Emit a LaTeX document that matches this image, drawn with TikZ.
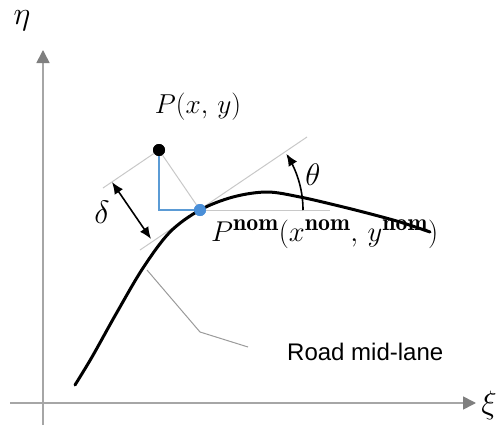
\documentclass[tikz,border=0pt]{standalone}
\usepackage{graphicx}
\usepackage{fontspec}
\setsansfont{Liberation Sans}
\usetikzlibrary{arrows.meta}
\definecolor{axisgray}{HTML}{A6A6A6}
\definecolor{headgray}{HTML}{7F7F7F}
\definecolor{thingray}{HTML}{C8C8C8}
\definecolor{leadgray}{HTML}{9A9A9A}
\definecolor{dotblue}{HTML}{4A8FD8}
\definecolor{lineblue}{HTML}{5B9BD5}
\tikzset{
  axisline/.style={draw=axisgray, line width=1.6pt, -{Triangle[length=13pt,width=13pt,fill=headgray,color=headgray]}},
  helper/.style={draw=thingray, line width=1pt},
  dot/.style={circle, inner sep=0pt, minimum size=12pt},
  mathlbl/.style={font=\fontsize{24.88}{30}\selectfont, inner sep=0pt},
  roadlbl/.style={font=\sffamily\fontsize{24}{28}\selectfont, inner sep=0pt},
  dimarrow/.style={black, line width=1.6pt, {Latex[length=12pt,width=10pt]}-{Latex[length=12pt,width=10pt]}},
  anglearrow/.style={black, line width=1.6pt, -{Latex[length=12pt,width=10pt]}},
  road/.style={black, line width=3pt, line cap=round},
  leader/.style={draw=leadgray, line width=1pt}
}
\begin{document}
\begin{tikzpicture}[x=1pt,y=-1pt]
\useasboundingbox (0,0) rectangle (496,431);
% axes
\coordinate (yb) at (43,425);
\coordinate (yt) at (43,50);
\coordinate (xl) at (10,403);
\coordinate (xr) at (476,403);
\draw[axisline] (yb) -- (yt);
\draw[axisline] (xl) -- (xr);
\node[mathlbl] (eta) at (22,21) {\scalebox{1.3}{$\eta$}};
\node[mathlbl] (xi) at (489,405) {\scalebox{1.3}{$\xi$}};
% helper coordinates
\coordinate (tanlo) at (140,250);
\coordinate (tanhi) at (307,137);
\coordinate (parlo) at (103,188);
\coordinate (horend) at (330,210);
\coordinate (dA) at (112,182);
\coordinate (dB) at (151,239);
\coordinate (l1) at (147,270);
\coordinate (l2) at (200,332);
\coordinate (l3) at (248,347);
% nodes
\node[dot, fill=black] (P) at (159,150) {};
\node[dot, fill=dotblue] (Pn) at (200,210) {};
% helper lines
\draw[helper] (tanlo) -- (tanhi);
\draw[helper] (parlo) -- (P.center);
\draw[helper] (P.center) -- (Pn.center);
\draw[helper] (Pn.center) -- (horend);
\draw[lineblue, line width=1.4pt] (P.center) |- (Pn.center);
% road curve
\draw[road] plot[smooth, tension=0.55] coordinates {(75,385) (92,357) (116,314) (143,268) (170,232) (200,210) (233,197) (267,192) (300,197) (335,205) (367,213) (400,222) (430,232)};
\node[dot, fill=dotblue] at (Pn) {};
\node[dot, fill=black] at (P) {};
% delta
\draw[dimarrow] (dA) -- (dB);
\node[mathlbl] (delta) at (102,212) {\scalebox{1.3}{$\delta$}};
% theta arc
\draw[anglearrow] plot[domain=0:33, samples=30] ({200+103*cos(\x)},{210-103*sin(\x)});
\node[mathlbl] (theta) at (313,175) {\scalebox{1.25}{$\theta$}};
% labels
\node[mathlbl] (Plbl) at (198,107) {\scalebox{1.1}{$P(x,\,y)$}};
\node[mathlbl, anchor=base west] (Pnlbl) at (211,241) {\scalebox{1.15}{$P^{\mathbf{nom}}(x^{\mathbf{nom}},\,y^{\mathbf{nom}})$}};
% leader
\draw[leader] (l1) -- (l2) -- (l3);
\node[roadlbl, anchor=west] (road) at (287,352) {Road mid-lane};
\end{tikzpicture}
\end{document}
